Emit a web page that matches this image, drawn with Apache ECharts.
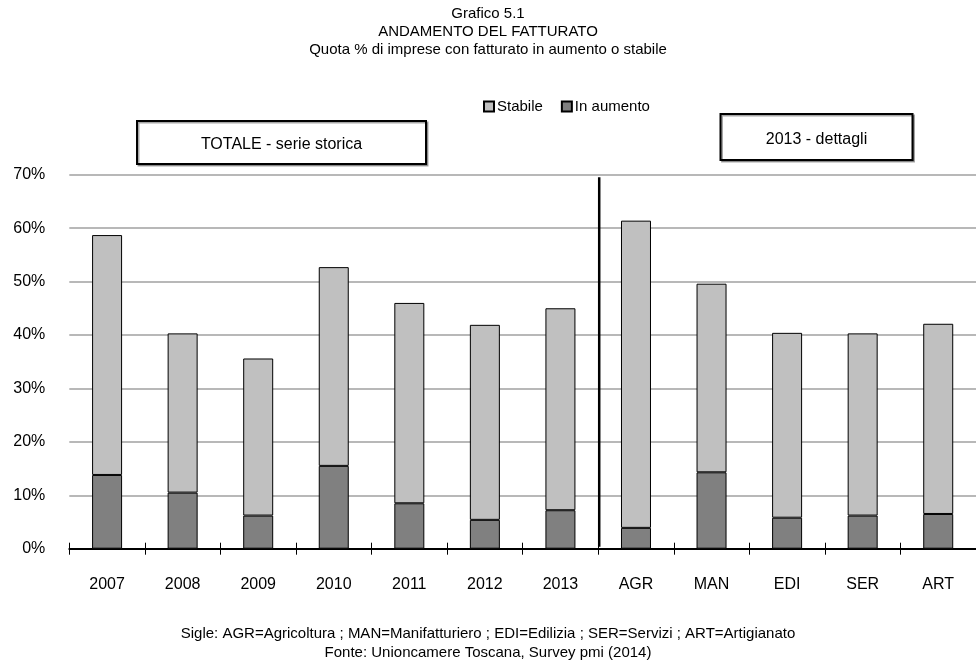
<!DOCTYPE html>
<html>
<head>
<meta charset="utf-8">
<script src="https://cdn.jsdelivr.net/npm/echarts@6/dist/echarts.min.js"></script>
<style>
html,body{margin:0;padding:0;background:#fff;}
#main{width:976px;height:666px;}
</style>
</head>
<body>
<div id="main"></div>
<script>
var categories = ['2007','2008','2009','2010','2011','2012','2013','AGR','MAN','EDI','SER','ART'];
var inAumento = [13.8, 10.5, 6.2, 15.5, 8.5, 5.4, 7.2, 3.9, 14.3, 5.8, 6.2, 6.5];
var stabile   = [44.9, 29.8, 29.4, 37.2, 37.5, 36.5, 37.8, 57.5, 35.3, 34.6, 34.1, 35.6];
var yTicks = [0, 10, 20, 30, 40, 50, 60, 70];

var FONT = "'Liberation Sans Narrow','Arial Narrow','Liberation Sans',Arial,sans-serif";
var chart = echarts.init(document.getElementById('main'), null, {renderer:'canvas'});

var option = {
  backgroundColor: '#fff',
  animation: false,
  textStyle: {fontFamily: FONT},
  title: [
    {text: 'Grafico 5.1', left: 'center', top: 1, textStyle:{fontFamily:FONT, fontSize:15, fontWeight:'normal', color:'#000'}},
    {text: 'ANDAMENTO DEL FATTURATO', left: 'center', top: 19, textStyle:{fontFamily:FONT, fontSize:15, fontWeight:'normal', color:'#000'}},
    {text: 'Quota % di imprese con fatturato in aumento o stabile', left: 'center', top: 37, textStyle:{fontFamily:FONT, fontSize:15, fontWeight:'normal', color:'#000'}},
    {text: 'Sigle: AGR=Agricoltura ; MAN=Manifatturiero ; EDI=Edilizia ; SER=Servizi ; ART=Artigianato', left: 'center', top: 621, textStyle:{fontFamily:FONT, fontSize:15, fontWeight:'normal', color:'#000'}},
    {text: 'Fonte: Unioncamere Toscana, Survey pmi (2014)', left: 'center', top: 640, textStyle:{fontFamily:FONT, fontSize:15, fontWeight:'normal', color:'#000'}}
  ],
  legend: {
    data: ['Stabile', 'In aumento'],
    left: 478,
    top: 94,
    itemWidth: 10,
    itemHeight: 10,
    itemGap: 18,
    icon: 'rect',
    textStyle: {fontFamily: FONT, fontSize: 15, color: '#000', padding:[0,0,0,-2]}
  },
  grid: {left: 69.3, right: -5.3, top: 174.7, bottom: 117.3, containLabel: false},
  xAxis: [{
    type: 'category',
    data: categories,
    boundaryGap: true,
    axisLine: {show: true, lineStyle: {color: '#000', width: 2}},
    axisTick: {show: true, alignWithLabel: false, length: 6, lineStyle: {color: '#000', width: 1}},
    axisLabel: {fontFamily: FONT, fontSize: 16, color: '#000', margin: 28},
    splitLine: {show: false}
  }, {
    type: 'category',
    data: categories,
    position: 'bottom',
    boundaryGap: true,
    axisLine: {show: false},
    axisTick: {show: true, inside: true, length: 6, lineStyle: {color: '#000', width: 1}},
    axisLabel: {show: false},
    splitLine: {show: false}
  }],
  yAxis: {
    type: 'value',
    min: yTicks[0],
    max: yTicks[yTicks.length - 1],
    interval: 10,
    axisLine: {show: false},
    axisTick: {show: false},
    axisLabel: {fontFamily: FONT, fontSize: 16, color: '#000', margin: 24, formatter: '{value}%'},
    splitLine: {show: true, lineStyle: {color: '#a0a0a0', width: 1.5}}
  },
  series: [{
    name: 'In aumento',
    type: 'bar',
    stack: 'tot',
    data: inAumento,
    barWidth: 30,
    itemStyle: {color: '#808080', borderColor: '#000', borderWidth: 1}
  }, {
    name: 'Stabile',
    type: 'bar',
    stack: 'tot',
    data: stabile,
    barWidth: 30,
    itemStyle: {color: '#c0c0c0', borderColor: '#000', borderWidth: 1}
  }]
};
chart.setOption(option);

// annotations: separator and section boxes
var p2013 = chart.convertToPixel({xAxisIndex: 0}, '2013');
var pAGR = chart.convertToPixel({xAxisIndex: 0}, 'AGR');
var sepX = (p2013 + pAGR) / 2 + 1;
var yTop = chart.convertToPixel({yAxisIndex: 0}, 70);
var yBot = chart.convertToPixel({yAxisIndex: 0}, 0);
chart.setOption({
  graphic: [
    {type: 'line', shape: {x1: sepX, y1: yTop + 2.5, x2: sepX, y2: yBot - 2}, style: {stroke: '#000', lineWidth: 2.5}, z: 100},
    {type: 'rect', shape: {x: 137, y: 121, width: 289, height: 43}, style: {fill: '#fff', stroke: '#000', lineWidth: 2, shadowColor:'rgba(0,0,0,0.35)', shadowOffsetX:1.5, shadowOffsetY:1.5, shadowBlur:0}, z: 100},
    {type: 'text', x: 281.5, y: 145, style: {text: 'TOTALE - serie storica', fontFamily: FONT, fontSize: 16, fill: '#000', align: 'center', verticalAlign: 'middle'}, z: 101},
    {type: 'rect', shape: {x: 720.5, y: 114, width: 192, height: 46}, style: {fill: '#fff', stroke: '#000', lineWidth: 2, shadowColor:'rgba(0,0,0,0.35)', shadowOffsetX:1.5, shadowOffsetY:1.5, shadowBlur:0}, z: 100},
    {type: 'text', x: 816.5, y: 140, style: {text: '2013 - dettagli', fontFamily: FONT, fontSize: 16, fill: '#000', align: 'center', verticalAlign: 'middle'}, z: 101}
  ]
});
</script>
</body>
</html>
